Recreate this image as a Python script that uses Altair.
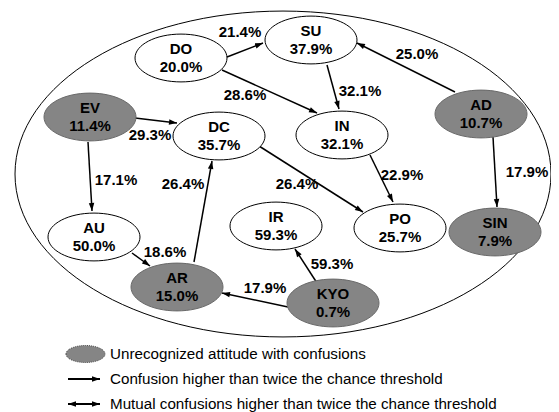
import math
import altair as alt
import pandas as pd

# ---------------- data ----------------
attitudes = ["DO", "SU", "EV", "DC", "IN", "AD", "AU", "AR", "IR", "PO", "SIN", "KYO"]
recognition = ["20.0%", "37.9%", "11.4%", "35.7%", "32.1%", "10.7%",
               "50.0%", "15.0%", "59.3%", "25.7%", "7.9%", "0.7%"]
unrecognized = [False, False, True, False, False, True,
                False, True, False, False, True, True]

edge_source = ["DO", "DO", "SU", "AD", "AD", "EV", "EV", "AR", "DC", "IN", "AU", "KYO", "KYO"]
edge_target = ["SU", "IN", "IN", "SU", "SIN", "DC", "AU", "DC", "PO", "PO", "AR", "AR", "IR"]
edge_rate = ["21.4%", "28.6%", "32.1%", "25.0%", "17.9%", "29.3%", "17.1%",
             "26.4%", "26.4%", "22.9%", "18.6%", "17.9%", "59.3%"]

legend_labels = ["Unrecognized attitude with confusions",
                 "Confusion higher than twice the chance threshold",
                 "Mutual confusions higher than twice the chance threshold"]

# ---------------- layout (pixel positions) ----------------
node_x = [181, 311, 90, 219, 342, 481, 94, 177, 276, 400, 495, 333]
node_y = [58, 40, 117, 136, 135, 114, 237, 287, 226, 228, 232, 303]

edge_x1 = [227, 222, 327, 455, 493, 135, 88, 194, 259, 370, 132, 288, 317]
edge_y1 = [57, 70, 65, 92, 137, 118, 142, 262, 146, 155, 253, 307, 283]
edge_x2 = [263, 317, 339, 357, 497, 177, 92, 212, 363, 393, 150, 222, 295]
edge_y2 = [43, 113, 109, 43, 207, 123, 211, 161, 212, 202, 266, 293, 249]

label_x = [240, 245, 360, 417, 527, 150, 116, 183, 297, 402, 165, 265, 332]
label_y = [32, 95, 91, 54, 172, 135, 180, 184, 184, 175, 252, 288, 264]

legend_y = [354, 379, 404]
legend_text_x = 110
legend_icon_x1, legend_icon_x2 = 68, 100

FONT = "Liberation Sans"
GRAY = "#858585"


def ellipse_path(ratio):
    return f"M-1,0A1,{ratio} 0 1,0 1,0A1,{ratio} 0 1,0 -1,0Z"


ARROW = "M0,0L0.55,1.6L-0.55,1.6Z"


def heading(dx, dy):
    return math.degrees(math.atan2(dx, -dy)) % 360


# ---------------- tables ----------------
nodes = pd.DataFrame({
    "name": attitudes, "rate": recognition,
    "status": ["unrecognized" if u else "recognized" for u in unrecognized],
    "x": node_x, "y": node_y,
})

edges = pd.DataFrame({
    "source": edge_source, "target": edge_target, "rate": edge_rate,
    "x": edge_x1, "y": edge_y1, "x2": edge_x2, "y2": edge_y2,
    "lx": label_x, "ly": label_y,
})
edges["angle"] = [heading(x2 - x1, y2 - y1) for x1, y1, x2, y2 in
                  zip(edge_x1, edge_y1, edge_x2, edge_y2)]

legend = pd.DataFrame({"label": legend_labels, "x": [legend_text_x] * 3, "y": legend_y})
legend_lines = pd.DataFrame({"x": [legend_icon_x1] * 2, "x2": [legend_icon_x2] * 2,
                             "y": legend_y[1:]})
legend_heads = pd.DataFrame({
    "x": [legend_icon_x2, legend_icon_x2, legend_icon_x1],
    "y": [legend_y[1], legend_y[2], legend_y[2]],
    "angle": [90, 90, 270],
})
legend_icon = pd.DataFrame({"x": [(legend_icon_x1 + legend_icon_x2) / 2 + 1.5], "y": [legend_y[0]]})
frame = pd.DataFrame({"x": [283], "y": [174]})

W, H = 543, 404
xs = alt.Scale(domain=[8, 8 + W], zero=False, nice=False)
ys = alt.Scale(domain=[8, 8 + H], zero=False, nice=False, reverse=True)
X = lambda f="x": alt.X(f"{f}:Q", scale=xs, axis=None)
Y = lambda f="y": alt.Y(f"{f}:Q", scale=ys, axis=None)

big = alt.Chart(frame).mark_point(
    shape=ellipse_path(0.608), size=(2 * 268) ** 2, filled=False,
    stroke="black", strokeWidth=1, opacity=1
).encode(x=X(), y=Y())

node_shape = alt.Chart(nodes).mark_point(
    shape=ellipse_path(0.52), size=92 ** 2, filled=True, opacity=1,
    strokeWidth=1
).encode(
    x=X(), y=Y(),
    fill=alt.Fill("status:N", scale=alt.Scale(domain=["recognized", "unrecognized"],
                                                range=["white", GRAY]), legend=None),
    stroke=alt.Stroke("status:N", scale=alt.Scale(domain=["recognized", "unrecognized"],
                                                    range=["black", "#6a6a6a"]), legend=None),
)

name_text = alt.Chart(nodes).mark_text(
    font=FONT, fontSize=15, fontWeight="bold", dy=-9, baseline="middle", align="center",
    color="black"
).encode(x=X(), y=Y(), text="name:N")

rate_text = alt.Chart(nodes).mark_text(
    font=FONT, fontSize=15, fontWeight="bold", dy=9, baseline="middle", align="center",
    color="black"
).encode(x=X(), y=Y(), text="rate:N")

edge_lines = alt.Chart(edges).mark_rule(color="black", strokeWidth=1.5).encode(
    x=X(), y=Y(), x2="x2:Q", y2="y2:Q")

edge_heads = alt.Chart(edges).mark_point(
    shape=ARROW, size=100, filled=True, color="black", opacity=1
).encode(x=X("x2"), y=Y("y2"), angle=alt.Angle("angle:Q", scale=None))

edge_labels = alt.Chart(edges).mark_text(
    font=FONT, fontSize=15, fontWeight="bold", baseline="middle", align="center",
    color="black"
).encode(x=X("lx"), y=Y("ly"), text="rate:N")

leg_icon = alt.Chart(legend_icon).mark_point(
    shape=ellipse_path(0.436), size=39 ** 2, filled=True, fill=GRAY, opacity=1,
    stroke="#444444", strokeWidth=1, strokeDash=[1, 1]
).encode(x=X(), y=Y())

leg_lines = alt.Chart(legend_lines).mark_rule(color="black", strokeWidth=2).encode(
    x=X(), y=Y(), x2="x2:Q")

leg_heads = alt.Chart(legend_heads).mark_point(
    shape=ARROW, size=100, filled=True, color="black", opacity=1
).encode(x=X(), y=Y(), angle=alt.Angle("angle:Q", scale=None))

leg_text = alt.Chart(legend).mark_text(
    font=FONT, fontSize=15.2, baseline="middle", align="left", color="black"
).encode(x=X(), y=Y(), text="label:N")

chart = alt.layer(
    big, edge_lines, node_shape, name_text, rate_text, edge_heads, edge_labels,
    leg_icon, leg_lines, leg_heads, leg_text
).properties(
    width=W, height=H, autosize=alt.AutoSizeParams(type="none"), padding=0
).configure_view(stroke=None)

chart.save("out.html", embed_options={"renderer": "svg", "actions": False})
